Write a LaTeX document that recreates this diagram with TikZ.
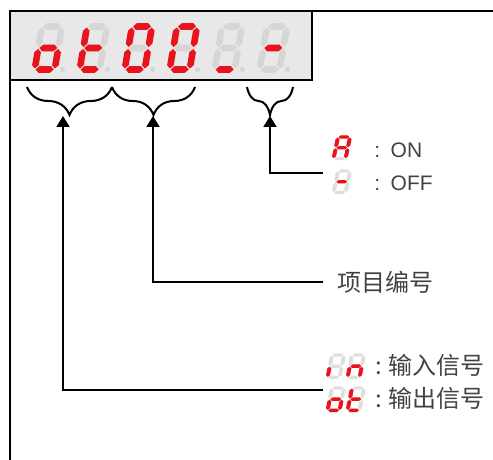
\documentclass[tikz,border=0pt]{standalone}
\usepackage{fontspec}
\setmainfont{Liberation Sans}
\newfontfamily\cjk{Noto Sans CJK SC}
\usetikzlibrary{arrows.meta,decorations.pathreplacing}

\definecolor{ledred}{RGB}{232,19,27}
\definecolor{ledoff}{RGB}{214,214,214}
\definecolor{ledoffw}{RGB}{222,222,222}
\definecolor{panelgray}{RGB}{232,232,232}
\definecolor{inkgray}{RGB}{66,66,66}

% segment outlines in local px, y pointing down; \sh = half thickness
\def\sh{3.3}
\def\hseg(#1,#2,#3){(#1,#3) -- (#1+\sh,#3-\sh) -- (#2-\sh,#3-\sh) -- (#2,#3) -- (#2-\sh,#3+\sh) -- (#1+\sh,#3+\sh) -- cycle}
\def\vseg(#1,#2,#3){(#1,#2) -- (#1+\sh,#2+\sh) -- (#1+\sh,#3-\sh) -- (#1,#3) -- (#1-\sh,#3-\sh) -- (#1-\sh,#2+\sh) -- cycle}
\def\sega{\hseg(1,19,0)}
\def\segg{\hseg(1,19,21.5)}
\def\segd{\hseg(1,19,43)}
\def\segf{\vseg(0,1,20.5)}
\def\sege{\vseg(0,22.5,42)}
\def\segb{\vseg(20,1,20.5)}
\def\segc{\vseg(20,22.5,42)}

% #1,#2 origin, #3 scale, #4 lit segments, #5 unlit colour
\newcommand{\leddigit}[5]{%
  \begin{scope}[shift={(#1,#2)},#3,xslant=.17]
    \foreach \s in {a,b,c,d,e,f,g} {\fill[#5] \csname seg\s\endcsname;}
    \foreach \s in {#4} {\fill[ledred] \csname seg\s\endcsname;}
  \end{scope}}

\begin{document}
\begin{tikzpicture}[x=.5pt,y=-.5pt,
  pen/.style={draw=black,line width=1pt},
  bracepen/.style={pen,decorate,decoration={brace,mirror,amplitude=14pt}},
  conn/.style={pen,-{Triangle[width=6.5pt,length=5.5pt]}},
  lbl/.style={inner sep=0pt,text=inkgray,font=\fontsize{10.5}{12}\selectfont},
  cjklbl/.style={inner sep=0pt,text=inkgray,font=\cjk\fontsize{12}{14}\selectfont}]
\useasboundingbox (0,0) rectangle (493,460);

% frame and display panel
\draw[pen] (10,460) -- (10,11) -- (493,11);
\filldraw[pen,fill=panelgray] (10,11) rectangle (312,80);

% display: o t 0 0 _ -
\leddigit{42}{26.5}{scale=1}{c,d,e,g}{ledoff}
\leddigit{87}{26.5}{scale=1}{d,e,f,g}{ledoff}
\leddigit{132}{26.5}{scale=1}{a,b,c,d,e,f}{ledoff}
\leddigit{177}{26.5}{scale=1}{a,b,c,d,e,f}{ledoff}
\leddigit{222}{26.5}{scale=1}{d}{ledoff}
\leddigit{267}{26.5}{scale=1}{g}{ledoff}
\foreach \x in {42,87,...,267}
  \fill[ledoff] (\x+20.5,69.5) circle[radius=1.3pt];

% braces under the digit groups
\draw[bracepen] (27,87) -- (112,87);
\draw[bracepen] (112,87) -- (195,87);
\draw[bracepen] (247,87) -- (293,87);
\coordinate (tipsig) at (63,116);
\coordinate (tipno) at (153,116);
\coordinate (tipst) at (270,116);

% legend: state
\leddigit{338}{137}{xscale=.6,yscale=.5}{a,b,c,e,f,g}{ledoffw}
\leddigit{338}{171}{xscale=.6,yscale=.5}{g}{ledoffw}
\node[lbl,anchor=west] (onlbl) at (374,150) {:\enspace ON};
\node[lbl,anchor=west] (offlbl) at (374,183) {:\enspace OFF};
\coordinate (endst) at (323,173);

% legend: item number
\node[cjklbl,anchor=west,inner xsep=7pt] (itemno) at (323,282) {项目编号};

% legend: signal type
\leddigit{332}{355}{xscale=.6,yscale=.52}{e}{ledoffw}
\leddigit{352}{355}{xscale=.6,yscale=.52}{c,e,g}{ledoffw}
\leddigit{332}{388}{xscale=.6,yscale=.52}{c,d,e,g}{ledoffw}
\leddigit{352}{388}{xscale=.6,yscale=.52}{d,e,f,g}{ledoffw}
\node[cjklbl,anchor=west] (inlbl) at (375,365) {:\hspace{3pt}输入信号};
\node[cjklbl,anchor=west] (outlbl) at (375,398) {:\hspace{3pt}输出信号};
\coordinate (endsig) at (323,390);

% connectors
\draw[conn] (endst) -| (tipst);
\draw[conn] (itemno.west) -| (tipno);
\draw[conn] (endsig) -| (tipsig);
\end{tikzpicture}
\end{document}
